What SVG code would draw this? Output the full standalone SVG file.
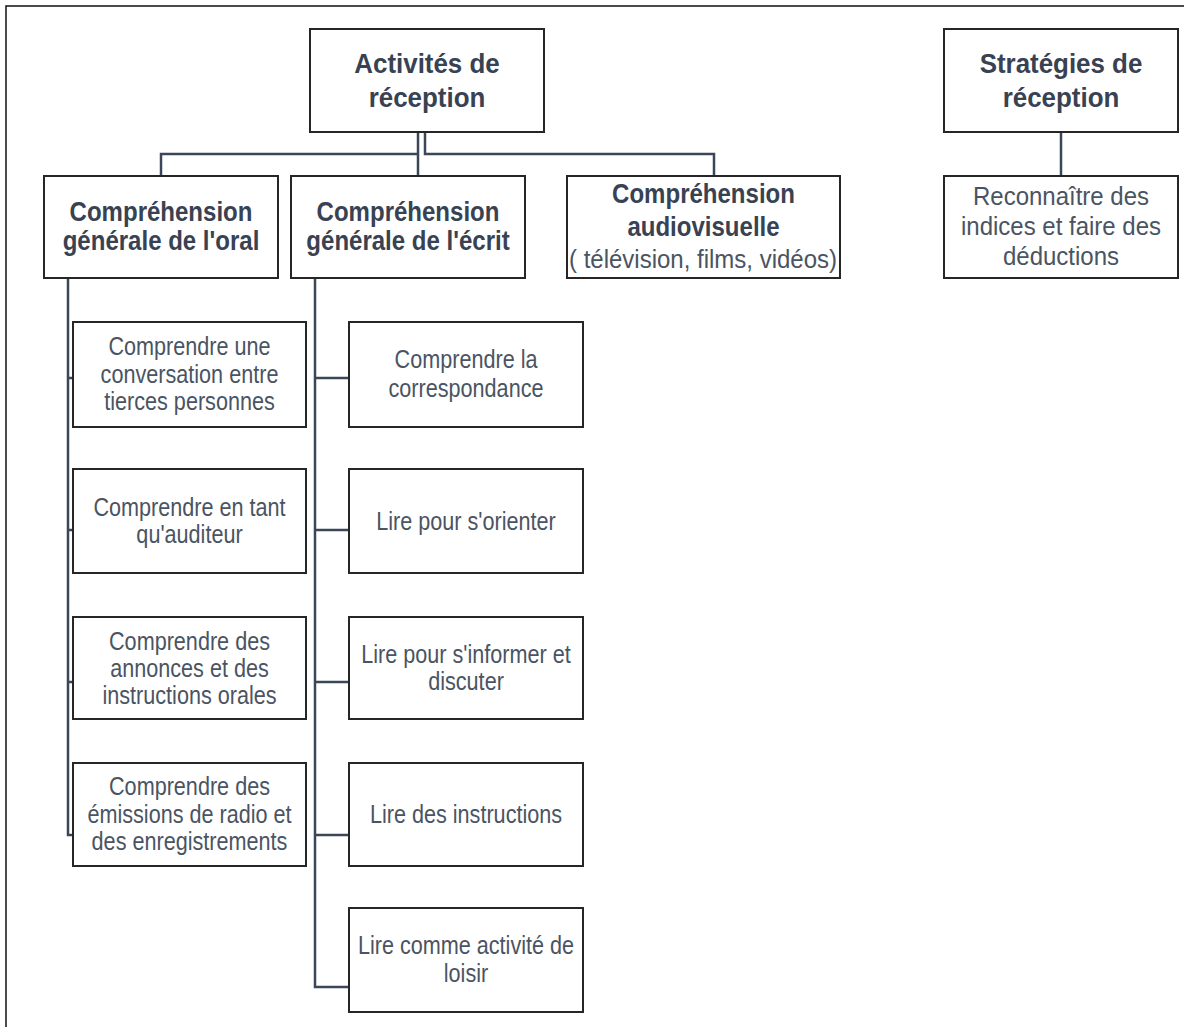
<svg xmlns="http://www.w3.org/2000/svg" width="1184" height="1027" viewBox="0 0 1184 1027">
<style>
.box{fill:#ffffff;stroke:#262626;stroke-width:2}
.con{fill:none;stroke:#3b4657;stroke-width:2.5}
.frame{fill:none;stroke:#111;stroke-width:1.5}
.h{font-family:"Liberation Sans",Arial,sans-serif;font-weight:bold;font-size:27px;fill:#384252;text-anchor:middle}
.t{font-family:"Liberation Sans",Arial,sans-serif;font-size:25px;fill:#4a5462;text-anchor:middle}
</style>
<rect width="1184" height="1027" fill="#ffffff"/>
<path class="frame" d="M1184 6 H6 V1027"/>
<g id="connectors">
<path class="con" d="M418 132 V176 M418 154 H161 V176 M425 132 V154 H714 V176"/>
<path class="con" d="M1061 132 V176"/>
<path class="con" d="M68 278 V835 H73 M68 378 H73 M68 530 H73 M68 682 H73"/>
<path class="con" d="M315 278 V987 H349 M315 378 H349 M315 530 H349 M315 682 H349 M315 835 H349"/>
</g>
<g id="n-activites">
<rect class="box" x="310" y="29" width="234" height="103"/>
<text class="h" transform="translate(427 0) scale(0.96 1)"><tspan x="0" y="73">Activités de</tspan><tspan x="0" y="107">réception</tspan></text>
</g>
<g id="n-strategies">
<rect class="box" x="944" y="29" width="234" height="103"/>
<text class="h" transform="translate(1061 0) scale(0.96 1)"><tspan x="0" y="73">Stratégies de</tspan><tspan x="0" y="107">réception</tspan></text>
</g>
<g id="n-oral">
<rect class="box" x="44" y="176" width="234" height="102"/>
<text class="h" transform="translate(161 0) scale(0.89 1)"><tspan x="0" y="221">Compréhension</tspan><tspan x="0" y="250">générale de l'oral</tspan></text>
</g>
<g id="n-ecrit">
<rect class="box" x="291" y="176" width="234" height="102"/>
<text class="h" transform="translate(408 0) scale(0.89 1)"><tspan x="0" y="221">Compréhension</tspan><tspan x="0" y="250">générale de l'écrit</tspan></text>
</g>
<g id="n-audio">
<rect class="box" x="567" y="176" width="273" height="102"/>
<text class="h" transform="translate(703.5 0) scale(0.89 1)"><tspan x="0" y="203">Compréhension</tspan><tspan x="0" y="236">audiovisuelle</tspan></text>
<text class="t" transform="translate(703 0) scale(0.96 1)" x="0" y="268">( télévision, films, vidéos)</text>
</g>
<g id="n-indices">
<rect class="box" x="944" y="176" width="234" height="102"/>
<text class="t" transform="translate(1061 0) scale(0.96 1)"><tspan x="0" y="205">Reconnaître des</tspan><tspan x="0" y="235">indices et faire des</tspan><tspan x="0" y="265">déductions</tspan></text>
</g>
<g id="n-o1">
<rect class="box" x="73" y="322" width="233" height="105"/>
<text class="t" transform="translate(189.5 0) scale(0.865 1)"><tspan x="0" y="355">Comprendre une</tspan><tspan x="0" y="383">conversation entre</tspan><tspan x="0" y="410">tierces personnes</tspan></text>
</g>
<g id="n-o2">
<rect class="box" x="73" y="469" width="233" height="104"/>
<text class="t" transform="translate(189.5 0) scale(0.865 1)"><tspan x="0" y="516">Comprendre en tant</tspan><tspan x="0" y="543">qu'auditeur</tspan></text>
</g>
<g id="n-o3">
<rect class="box" x="73" y="617" width="233" height="102"/>
<text class="t" transform="translate(189.5 0) scale(0.865 1)"><tspan x="0" y="650">Comprendre des</tspan><tspan x="0" y="677">annonces et des</tspan><tspan x="0" y="704">instructions orales</tspan></text>
</g>
<g id="n-o4">
<rect class="box" x="73" y="763" width="233" height="103"/>
<text class="t" transform="translate(189.5 0) scale(0.865 1)"><tspan x="0" y="795">Comprendre des</tspan><tspan x="0" y="823">émissions de radio et</tspan><tspan x="0" y="850">des enregistrements</tspan></text>
</g>
<g id="n-e1">
<rect class="box" x="349" y="322" width="234" height="105"/>
<text class="t" transform="translate(466 0) scale(0.865 1)"><tspan x="0" y="368">Comprendre la</tspan><tspan x="0" y="397">correspondance</tspan></text>
</g>
<g id="n-e2">
<rect class="box" x="349" y="469" width="234" height="104"/>
<text class="t" transform="translate(466 0) scale(0.865 1)"><tspan x="0" y="530">Lire pour s'orienter</tspan></text>
</g>
<g id="n-e3">
<rect class="box" x="349" y="617" width="234" height="102"/>
<text class="t" transform="translate(466 0) scale(0.865 1)"><tspan x="0" y="663">Lire pour s'informer et</tspan><tspan x="0" y="690">discuter</tspan></text>
</g>
<g id="n-e4">
<rect class="box" x="349" y="763" width="234" height="103"/>
<text class="t" transform="translate(466 0) scale(0.865 1)"><tspan x="0" y="823">Lire des instructions</tspan></text>
</g>
<g id="n-e5">
<rect class="box" x="349" y="908" width="234" height="104"/>
<text class="t" transform="translate(466 0) scale(0.865 1)"><tspan x="0" y="954">Lire comme activité de</tspan><tspan x="0" y="982">loisir</tspan></text>
</g>
</svg>
